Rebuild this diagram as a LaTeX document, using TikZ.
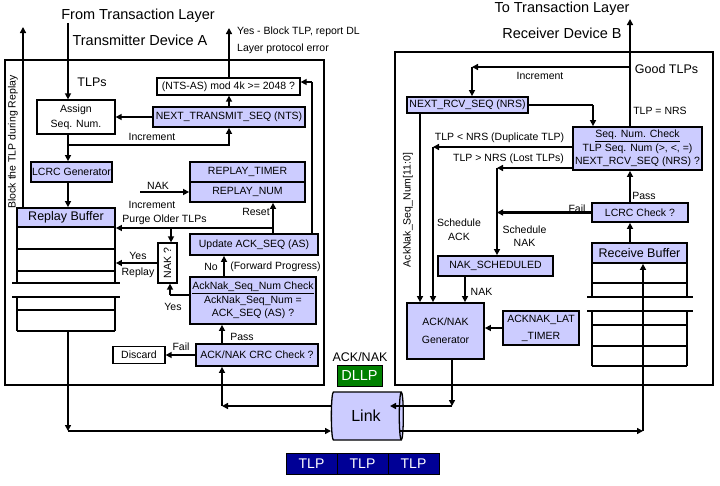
\documentclass[tikz,border=0pt]{standalone}
\usepackage{fontspec}
\setmainfont{Liberation Sans}
\usetikzlibrary{arrows.meta,shapes.geometric}
\definecolor{lav}{RGB}{204,204,255}
\definecolor{dgreen}{RGB}{0,128,0}
\definecolor{navyb}{RGB}{0,0,150}
\begin{document}
\begin{tikzpicture}[x=1pt,y=-1pt,
  every node/.style={font=\fontsize{10.5}{13.5}\selectfont, inner sep=0pt},
  sz/.style 2 args={minimum width=#1pt, minimum height=#2pt},
  lavbox/.style={draw, line width=1.8pt, fill=lav, align=center},
  whbox/.style={draw, line width=1.3pt, fill=white, align=center},
  outerbox/.style={draw, line width=1.3pt},
  bufline/.style={line width=1.3pt},
  arr/.style={line width=2.4pt, -{Triangle[length=6pt,width=6pt]}},
  ln/.style={line width=2.4pt},
  big/.style={font=\fontsize{14.5}{16}\selectfont},
  mid/.style={font=\fontsize{12.5}{14}\selectfont},
]
\useasboundingbox (0,0) rectangle (720,485);

% outer boxes
\node[outerbox, sz={319}{325}] (outerA) at (164.5,222.5) {};
\node[outerbox, sz={318}{333}] (outerB) at (554,218.5) {};

% titles
\node[big] (fromtl) at (138,16) {From Transaction Layer};
\node[big] (devA) at (140,40) {Transmitter Device A};
\node[big] (totl) at (562,9) {To Transaction Layer};
\node[big] (devB) at (562,33) {Receiver Device B};

% ---------------- Device A ----------------
\node[whbox, sz={78}{34}, font=\fontsize{10.5}{15}\selectfont] (assign) at (76,117) {Assign\\Seq. Num.};
\node[lavbox, sz={152}{20}] (nts) at (229,117) {NEXT\_TRANSMIT\_SEQ (NTS)};
\node[whbox, sz={143}{17}] (mod) at (228.5,86.5) {(NTS-AS) mod 4k >= 2048 ?};
\node[lavbox, sz={81}{20}] (lcrcg) at (71.5,172) {LCRC Generator};
\node[lavbox, sz={98}{19}, mid] (rbuf) at (66,217.5) {Replay Buffer};
\node[lavbox, sz={115}{20}] (rtimer) at (247.5,172) {REPLAY\_TIMER};
\node[lavbox, sz={115}{20}] (rnum) at (247.5,192) {REPLAY\_NUM};
\node[lavbox, sz={128}{21}] (upd) at (254,244.5) {Update ACK\_SEQ (AS)};
\node[whbox, sz={19}{40}] (nakq) at (167.5,263) {\rotatebox{90}{NAK ?}};
\node[lavbox, sz={126}{47}] (ansc) at (253,300.5) {\underline{AckNak\_Seq\_Num Check}\\AckNak\_Seq\_Num =\\ACK\_SEQ (AS) ?};
\node[lavbox, sz={122}{22}] (crc) at (257,355) {ACK/NAK CRC Check ?};
\node[whbox, sz={52}{17}] (discard) at (139,355) {Discard};

% replay buffer rows
\draw[bufline] (17,227) -- (17,283) (115,227) -- (115,283)
  (17,297) -- (17,331) (115,297) -- (115,331)
  (17,249) -- (115,249) (17,271) -- (115,271)
  (12,283) -- (120,283) (12,297) -- (120,297)
  (17,310) -- (115,310) (17,331) -- (115,331);
\coordinate (rbufbot) at (68,331);

% labels A
\node[mid] (tlps) at (92,82) {TLPs};
\node[anchor=west] (yesblk) at (237,32) {Yes - Block TLP, report DL};
\node[anchor=west] (layerr) at (237,49) {Layer protocol error};
\node (incA1) at (152,137) {Increment};
\node (nakA) at (158,186) {NAK};
\node (incA2) at (152,205) {Increment};
\node (reset) at (256,212) {Reset};
\node (purge) at (164.5,220) {Purge Older TLPs};
\node (yesR) at (138,256) {Yes};
\node (replay) at (138,273) {Replay};
\node (yesN) at (173,307) {Yes};
\node (no) at (211,267) {No};
\node (fwd) at (275.5,267) {(Forward Progress)};
\node (passA) at (242,337) {Pass};
\node (failA) at (181,347) {Fail};
\node[rotate=90] (blk) at (13,142) {Block the TLP during Replay};

% connectors A
\coordinate (blkTip) at (23,27);
\draw[arr] (rbuf.north -| blkTip) -- (blkTip);
\draw[arr] (68,0 |- fromtl.south) -- (68,0 |- assign.north);
\coordinate (incA) at (68,145);
\draw[ln] (assign.south -| incA) -- (incA);
\draw[arr] (incA) -- (lcrcg.north -| incA);
\draw[arr] (incA) -- (incA -| nts.south) -- (nts.south);
\draw[arr] (lcrcg.south -| incA) -- (rbuf.north -| incA);
\draw[arr] (nts.west) -- (nts.west -| assign.east);
\draw[arr] (nts.north) -- (nts.north |- mod.south);
\coordinate (yesTip) at (229,28);
\draw[arr] (mod.north -| yesTip) -- (yesTip);
\coordinate (cAS) at (312,82);
\draw[ln] (upd.north -| cAS) -- (cAS);
\draw[arr] (cAS) -- (cAS -| mod.east);
\coordinate (rs) at (273,228);
\draw[arr] (upd.north -| rs) -- (rnum.south -| rs);
\draw[arr] (rs) -- (rs -| rbuf.east);
\coordinate (pg) at (171,228);
\draw[arr] (pg) -- (nakq.north -| pg);
\draw[arr] (nakq.west) -- (nakq.west -| rbuf.east);
\coordinate (yc) at (170,295);
\draw[ln] (ansc.west |- yc) -- (yc);
\draw[arr] (yc) -- (nakq.south -| yc);
\draw[arr] (ansc.north -| 224,0) -- (upd.south -| 224,0);
\coordinate (cCRC) at (222,406);
\draw[arr] (crc.north -| cCRC) -- (ansc.south -| cCRC);
\draw[arr] (crc.west) -- (crc.west -| discard.east);
\coordinate (nakin) at (140,192);
\draw[arr] (nakin) -- (nakin -| rnum.west);

% ---------------- Link ----------------
\node[draw, cylinder, shape aspect=0.35, fill=lav, line width=1.3pt,
  minimum width=48pt, minimum height=72pt, font=\fontsize{16}{18}\selectfont] (link) at (366,416) {Link};
\node[mid] (acknakl) at (360,357) {ACK/NAK};
\node[draw, line width=1pt, fill=dgreen, text=white, sz={45}{21}, big] (dllp) at (359.5,375.5) {DLLP};
\node[draw, line width=1pt, fill=navyb, text=white, sz={51}{21}, font=\fontsize{14}{16}\selectfont] (tlp1) at (311.5,463.5) {TLP};
\node[draw, line width=1pt, fill=navyb, text=white, sz={51}{21}, font=\fontsize{14}{16}\selectfont] (tlp2) at (362.5,463.5) {TLP};
\node[draw, line width=1pt, fill=navyb, text=white, sz={51}{21}, font=\fontsize{14}{16}\selectfont] (tlp3) at (413.5,463.5) {TLP};

% ---------------- Device B ----------------
\node[lavbox, sz={121}{16}] (nrs) at (467.5,105) {NEXT\_RCV\_SEQ (NRS)};
\node[lavbox, sz={129}{43}] (snc) at (637.5,148.5) {\underline{Seq. Num. Check}\\TLP Seq. Num (>, <, =)\\NEXT\_RCV\_SEQ (NRS) ?};
\node[lavbox, sz={96}{19}] (lcrcc) at (640,212.5) {LCRC Check ?};
\node[lavbox, sz={115}{20}] (nsched) at (495.5,266) {NAK\_SCHEDULED};
\node[lavbox, sz={77}{56}, font=\fontsize{10.5}{18}\selectfont] (gen) at (445.5,331) {ACK/NAK\\Generator};
\node[lavbox, sz={76}{34}, font=\fontsize{10.5}{17}\selectfont] (lat) at (541,328) {ACKNAK\_LAT\\\_TIMER};
\node[lavbox, sz={95}{20}, mid] (rcvbuf) at (639.5,253) {Receive Buffer};

% receive buffer rows
\draw[bufline] (592,263) -- (592,297) (687,263) -- (687,297)
  (592,311) -- (592,366) (687,311) -- (687,366)
  (592,283) -- (687,283)
  (587,297) -- (693,297) (587,311) -- (693,311)
  (592,325) -- (687,325) (592,346) -- (687,346) (592,366) -- (687,366);

% labels B
\node[mid] (goodtlp) at (666.5,69) {Good TLPs};
\node (incB) at (540,76) {Increment};
\node (tlpeq) at (660,111) {TLP = NRS};
\node (tlplt) at (499.5,138) {TLP < NRS (Duplicate TLP)};
\node (tlpgt) at (508.5,159) {TLP > NRS (Lost TLPs)};
\node (passB) at (644,196) {Pass};
\node (failB) at (577,209) {Fail};
\node[align=center, font=\fontsize{10.5}{14}\selectfont] (schack) at (459,230) {Schedule\\ACK};
\node[align=center, font=\fontsize{10.5}{13}\selectfont] (schnak) at (524.5,236.5) {Schedule\\NAK};
\node (nakB) at (481.5,292) {NAK};
\node[rotate=90] (acknum) at (408,210) {AckNak\_Seq\_Num[11:0]};

% connectors B
\coordinate (toTL) at (630,19);
\coordinate (gt) at (630,67);
\draw[arr] (snc.north -| toTL) -- (toTL);
\coordinate (cInc) at (472,67);
\draw[arr] (gt) -- (cInc);
\draw[arr] (cInc) -- (nrs.north -| cInc);
\coordinate (cNR) at (593,105);
\draw[ln] (nrs.east) -- (cNR);
\draw[arr] (cNR) -- (snc.north -| cNR);
\coordinate (cDup) at (433,147);
\draw[arr] (snc.west |- cDup) -- (cDup);
\draw[arr] (cDup) -- (gen.north -| cDup);
\coordinate (cLost) at (497,168);
\draw[arr] (snc.west |- cLost) -- (cLost);
\draw[arr] (cLost) -- (nsched.north -| cLost);
\draw[arr] (lcrcc.west) -- (lcrcc.west -| cLost);
\draw[arr] (nrs.south -| 420,0) -- (gen.north -| 420,0);
\draw[arr] (nsched.south -| 465,0) -- (gen.north -| 465,0);
\draw[arr] (lat.west) -- (lat.west -| gen.east);
\draw[arr] (lcrcc.north -| toTL) -- (snc.south -| toTL);
\draw[arr] (rcvbuf.north -| toTL) -- (lcrcc.south -| toTL);

% link connectors
\coordinate (cBL) at (68,431);
\coordinate (cBR) at (643,431);
\coordinate (cGen) at (452,406);
\draw[arr] (rbufbot) -- (cBL);
\draw[arr] (cBL) -- (331,431);
\draw[arr] (399,431) -- (cBR);
\draw[arr] (cBR) -- (rcvbuf.south -| cBR |- 0,366);
\draw[arr] (gen.south -| cGen) -- (cGen);
\draw[arr] (cGen) -- (390,406);
\draw[arr] (331,406) -- (cCRC);
\draw[arr] (cCRC) -- (crc.south -| cCRC);
\end{tikzpicture}
\end{document}
